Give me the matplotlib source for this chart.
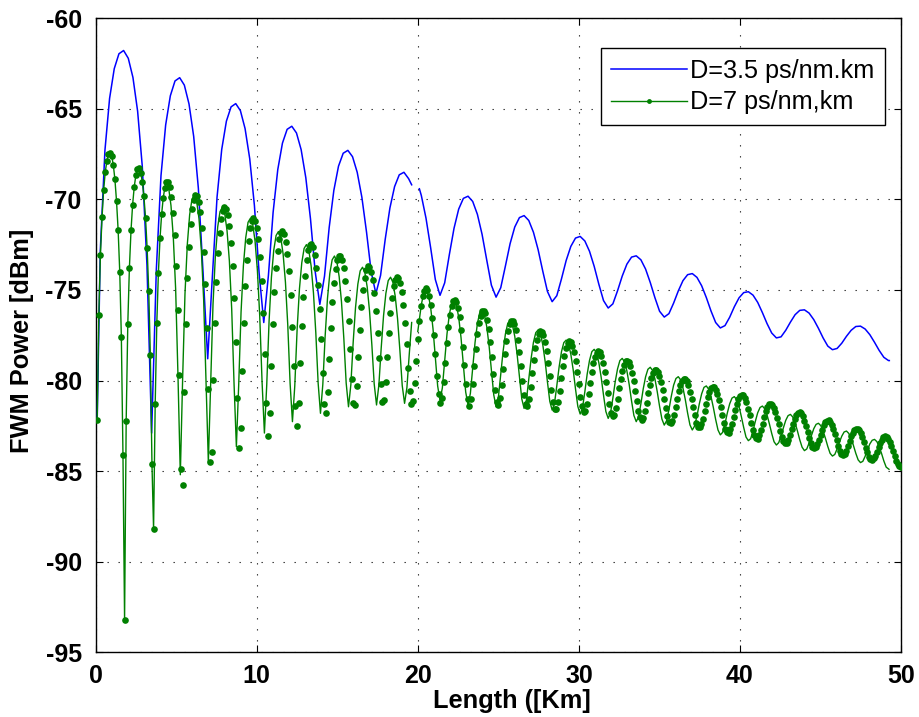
import numpy as np
import matplotlib
matplotlib.use("Agg")
import matplotlib.pyplot as plt
from matplotlib.lines import Line2D

plt.rcParams['font.family'] = ['Liberation Sans', 'DejaVu Sans']

# ---------------- data ----------------
series_labels = ["D=3.5 ps/nm.km", "D=7 ps/nm,km"]
x_label = "Length ([Km]"
y_label = "FWM Power [dBm]"
x_ticks = [0, 10, 20, 30, 40, 50]
y_ticks = [-95, -90, -85, -80, -75, -70, -65, -60]

# D = 3.5 ps/nm.km, first segment (0 - 19.6 km)
blue_a_x = [0.10, 0.29, 0.58, 0.87, 1.16, 1.45, 1.74, 2.03, 2.32, 2.61, 2.90, 3.19, 3.48,
            3.77, 4.06, 4.35, 4.64, 4.93, 5.22, 5.51, 5.80, 6.09, 6.38, 6.67, 6.96,
            7.25, 7.54, 7.83, 8.12, 8.41, 8.70, 8.99, 9.28, 9.57, 9.86, 10.15, 10.44,
            10.73, 11.02, 11.31, 11.60, 11.89, 12.18, 12.47, 12.76, 13.05, 13.34, 13.63, 13.92,
            14.21, 14.50, 14.79, 15.08, 15.37, 15.66, 15.95, 16.24, 16.53, 16.82, 17.11, 17.40,
            17.69, 17.98, 18.27, 18.56, 18.85, 19.14, 19.43, 19.62]
blue_a_y = [-82.2, -72.9, -67.31, -64.43, -62.79, -61.97, -61.79, -62.22, -63.28, -65.14, -68.19, -73.64, -82.9,
            -73.9, -68.70, -65.90, -64.29, -63.47, -63.29, -63.70, -64.74, -66.53, -69.39, -74.00, -78.8,
            -74.25, -69.88, -67.25, -65.69, -64.90, -64.72, -65.11, -66.10, -67.77, -70.35, -74.05, -76.8,
            -74.19, -70.72, -68.36, -66.90, -66.14, -65.97, -66.34, -67.26, -68.81, -71.08, -73.98, -75.8,
            -74.24, -71.56, -69.51, -68.17, -67.46, -67.30, -67.65, -68.51, -69.89, -71.82, -74.02, -75.2,
            -74.20, -72.20, -70.48, -69.30, -68.65, -68.51, -68.86, -69.2]

# D = 3.5 ps/nm.km, second segment (20.1 - 49.3 km)
blue_b_x = [20.10, 20.22, 20.51, 20.80, 21.09, 21.38,
            21.67, 21.96, 22.25, 22.54, 22.83, 23.12, 23.41, 23.70, 23.99, 24.28, 24.57, 24.86,
            25.15, 25.44, 25.73, 26.02, 26.31, 26.60, 26.89, 27.18, 27.47, 27.76, 28.05, 28.34,
            28.63, 28.92, 29.21, 29.50, 29.79, 30.08, 30.37, 30.66, 30.95, 31.24, 31.53, 31.82,
            32.11, 32.40, 32.69, 32.98, 33.27, 33.56, 33.85, 34.14, 34.43, 34.72, 35.01, 35.30,
            35.59, 35.88, 36.17, 36.46, 36.75, 37.04, 37.33, 37.62, 37.91, 38.20, 38.49, 38.78,
            39.07, 39.36, 39.65, 39.94, 40.23, 40.52, 40.81, 41.10, 41.39, 41.68, 41.97, 42.26,
            42.55, 42.84, 43.13, 43.42, 43.71, 44.00, 44.29, 44.58, 44.87, 45.16, 45.45, 45.74,
            46.03, 46.32, 46.61, 46.90, 47.19, 47.48, 47.77, 48.06, 48.35, 48.64, 48.93, 49.22,
            49.27]
blue_b_y = [-69.42, -69.79, -71.04, -72.68, -74.43, -75.3,
            -74.61, -73.05, -71.60, -70.54, -69.95, -69.83, -70.12, -70.83, -71.93, -73.35, -74.74, -75.4,
            -74.88, -73.68, -72.45, -71.53, -71.01, -70.90, -71.17, -71.82, -72.78, -73.97, -75.09, -75.65,
            -75.32, -74.39, -73.38, -72.60, -72.14, -72.05, -72.30, -72.87, -73.70, -74.69, -75.59, -76.0,
            -75.77, -75.05, -74.24, -73.58, -73.19, -73.12, -73.34, -73.85, -74.59, -75.43, -76.18, -76.5,
            -76.31, -75.73, -75.06, -74.49, -74.16, -74.10, -74.31, -74.77, -75.42, -76.16, -76.80, -77.1,
            -76.97, -76.51, -75.93, -75.44, -75.15, -75.10, -75.29, -75.69, -76.25, -76.86, -77.38, -77.65,
            -77.59, -77.23, -76.78, -76.37, -76.13, -76.10, -76.28, -76.64, -77.12, -77.65, -78.10, -78.3,
            -78.23, -77.94, -77.56, -77.23, -77.02, -77.00, -77.16, -77.47, -77.89, -78.34, -78.72, -78.9,
            -78.9]

# D = 7 ps/nm.km, thin line, first segment
green_a_x = [0.1, 0.2, 0.3, 0.4, 0.5, 0.6, 0.7, 0.8, 0.9, 1.0, 1.1, 1.2, 1.3, 1.4, 1.5, 1.6, 1.7,
             1.8, 1.9, 2.0, 2.1, 2.2, 2.3, 2.4, 2.5, 2.6, 2.7, 2.8, 2.9, 3.0, 3.1, 3.2, 3.3, 3.4, 3.5,
             3.6, 3.7, 3.8, 3.9, 4.0, 4.1, 4.2, 4.3,
             4.39, 4.535, 4.68, 4.825, 4.97, 5.115, 5.26,
             5.405, 5.55, 5.695, 5.84, 5.985, 6.13, 6.275, 6.42, 6.565, 6.71, 6.855, 7.0,
             7.145, 7.29, 7.435, 7.58, 7.725, 7.87, 8.015, 8.16, 8.305, 8.45, 8.595, 8.74,
             8.885, 9.03, 9.175, 9.32, 9.465, 9.61, 9.755, 9.90, 10.045, 10.19, 10.335, 10.48,
             10.625, 10.77, 10.915, 11.06, 11.205, 11.35, 11.495, 11.64, 11.785, 11.93, 12.075, 12.22,
             12.365, 12.51, 12.655, 12.80, 12.945, 13.09, 13.235, 13.38, 13.525, 13.67, 13.815, 13.96,
             14.105, 14.25, 14.395, 14.54, 14.685, 14.83, 14.975, 15.12, 15.265, 15.41, 15.555, 15.70,
             15.845, 15.99, 16.135, 16.28, 16.425, 16.57, 16.715, 16.86, 17.005, 17.15, 17.295, 17.44,
             17.585, 17.73, 17.875, 18.02, 18.165, 18.31, 18.455, 18.60, 18.745, 18.89, 19.035, 19.18,
             19.325, 19.47, 19.62]
green_a_y = [-82.2, -76.4, -73.1, -71.0, -69.5, -68.5, -67.9, -67.5, -67.45, -67.6, -68.1, -68.9, -70.1, -71.7, -74.0, -77.6, -84.1,
             -93.2, -82.21, -76.87, -73.77, -71.71, -70.29, -69.31, -68.68, -68.35, -68.30, -68.53, -69.03, -69.84, -71.02, -72.69, -75.06, -78.61, -84.59,
             -88.2, -81.32, -76.85, -74.05, -72.15, -70.83, -69.92, -69.35,
             -69.00, -69.36, -70.34, -72.10, -74.95, -79.74, -85.20,
             -79.87, -75.21, -72.48, -70.85, -69.99, -69.76, -70.11, -71.08, -72.80, -75.57, -80.04, -84.50,
             -80.15, -75.79, -73.14, -71.53, -70.68, -70.44, -70.78, -71.73, -73.40, -76.06, -80.17, -83.65,
             -80.22, -76.23, -73.67, -72.12, -71.27, -71.05, -71.39, -72.31, -73.93, -76.45, -80.09, -82.90,
             -80.24, -76.72, -74.31, -72.81, -72.00, -71.78, -72.11, -73.01, -74.57, -76.94, -80.16, -82.27,
             -80.30, -77.19, -74.94, -73.50, -72.71, -72.50, -72.82, -73.68, -75.17, -77.36, -80.14, -81.81,
             -80.22, -77.55, -75.47, -74.09, -73.34, -73.13, -73.43, -74.27, -75.67, -77.68, -80.14, -81.45,
             -80.24, -77.89, -75.98, -74.68, -73.95, -73.75, -74.04, -74.84, -76.17, -78.04, -80.19, -81.35,
             -80.25, -78.20, -76.43, -75.19, -74.49, -74.30, -74.58, -75.35, -76.60, -78.34, -80.28, -81.26,
             -80.40, -78.56, -76.80]

# D = 7 ps/nm.km, thin line, second segment
green_b_x = [20.0, 20.22, 20.365, 20.51, 20.655, 20.80, 20.945, 21.09, 21.235, 21.38,
             21.525, 21.67, 21.815, 21.96, 22.105, 22.25, 22.395, 22.54, 22.685, 22.83, 22.975, 23.12,
             23.265, 23.41, 23.555, 23.70, 23.845, 23.99, 24.135, 24.28, 24.425, 24.57, 24.715, 24.86,
             25.005, 25.15, 25.295, 25.44, 25.585, 25.73, 25.875, 26.02, 26.165, 26.31, 26.455, 26.60,
             26.745, 26.89, 27.035, 27.18, 27.325, 27.47, 27.615, 27.76, 27.905, 28.05, 28.195, 28.34,
             28.485, 28.63, 28.775, 28.92, 29.065, 29.21, 29.355, 29.50, 29.645, 29.79, 29.935, 30.08,
             30.225, 30.37, 30.515, 30.66, 30.805, 30.95, 31.095, 31.24, 31.385, 31.53, 31.675, 31.82,
             31.965, 32.11, 32.255, 32.40, 32.545, 32.69, 32.835, 32.98, 33.125, 33.27, 33.415, 33.56,
             33.705, 33.85, 33.995, 34.14, 34.285, 34.43, 34.575, 34.72, 34.865, 35.01, 35.155, 35.30,
             35.445, 35.59, 35.735, 35.88, 36.025, 36.17, 36.315, 36.46, 36.605, 36.75, 36.895, 37.04,
             37.185, 37.33, 37.475, 37.62, 37.765, 37.91, 38.055, 38.20, 38.345, 38.49, 38.635, 38.78,
             38.925, 39.07, 39.215, 39.36, 39.505, 39.65, 39.795, 39.94, 40.085, 40.23, 40.375, 40.52,
             40.665, 40.81, 40.955, 41.10, 41.245, 41.39, 41.535, 41.68, 41.825, 41.97, 42.115, 42.26,
             42.405, 42.55, 42.695, 42.84, 42.985, 43.13, 43.275, 43.42, 43.565, 43.71, 43.855, 44.00,
             44.145, 44.29, 44.435, 44.58, 44.725, 44.87, 45.015, 45.16, 45.305, 45.45, 45.595, 45.74,
             45.885, 46.03, 46.175, 46.32, 46.465, 46.61, 46.755, 46.90, 47.045, 47.19, 47.335, 47.48,
             47.625, 47.77, 47.915, 48.06, 48.205, 48.35, 48.495, 48.64, 48.785, 48.93, 49.075, 49.25]
green_b_y = [-77.30, -75.82, -75.18, -75.00, -75.27, -75.97, -77.14, -78.69, -80.31, -81.10,
             -80.41, -78.89, -77.42, -76.35, -75.73, -75.56, -75.82, -76.51, -77.64, -79.12, -80.64, -81.35,
             -80.71, -79.29, -77.90, -76.86, -76.26, -76.10, -76.35, -77.02, -78.07, -79.44, -80.79, -81.45,
             -80.92, -79.66, -78.39, -77.43, -76.85, -76.70, -76.94, -77.56, -78.55, -79.81, -81.01, -81.54,
             -81.07, -79.95, -78.79, -77.89, -77.36, -77.21, -77.43, -78.03, -78.94, -80.09, -81.15, -81.63,
             -81.27, -80.29, -79.24, -78.41, -77.91, -77.77, -77.98, -78.55, -79.40, -80.46, -81.43, -81.85,
             -81.51, -80.62, -79.65, -78.89, -78.41, -78.28, -78.48, -79.02, -79.83, -80.81, -81.71, -82.09,
             -81.79, -80.97, -80.07, -79.36, -78.90, -78.78, -78.97, -79.47, -80.23, -81.13, -81.93, -82.27,
             -82.00, -81.28, -80.46, -79.80, -79.38, -79.27, -79.45, -79.91, -80.62, -81.43, -82.13, -82.46,
             -82.22, -81.61, -80.88, -80.26, -79.89, -79.79, -79.96, -80.41, -81.05, -81.80, -82.45, -82.73,
             -82.51, -81.96, -81.29, -80.74, -80.38, -80.30, -80.48, -80.88, -81.48, -82.15, -82.73, -83.00,
             -82.86, -82.38, -81.79, -81.29, -80.97, -80.89, -81.06, -81.43, -81.99, -82.59, -83.12, -83.32,
             -83.21, -82.77, -82.25, -81.78, -81.49, -81.41, -81.56, -81.90, -82.39, -82.92, -83.38, -83.56,
             -83.43, -83.06, -82.61, -82.20, -81.94, -81.87, -82.01, -82.33, -82.78, -83.27, -83.68, -83.87,
             -83.78, -83.45, -83.04, -82.66, -82.42, -82.36, -82.49, -82.79, -83.19, -83.64, -84.02, -84.17,
             -84.08, -83.77, -83.40, -83.07, -82.84, -82.79, -82.92, -83.19, -83.59, -84.02, -84.38, -84.53,
             -84.46, -84.18, -83.83, -83.50, -83.30, -83.25, -83.37, -83.65, -84.02, -84.44, -84.78, -84.90]

# D = 7 ps/nm.km, sampled points every 0.1 km from 0.1 to 50 km
dot_step_km = 0.1
dots_y = [
    -82.2, -76.4, -73.1, -71.0, -69.5, -68.5, -67.9, -67.5, -67.45, -67.6, -68.1, -68.9, -70.1, -71.7, -74.0, -77.6, -84.1,
    -93.2, -82.21, -76.87, -73.77, -71.71, -70.29, -69.31, -68.68, -68.35, -68.30, -68.53, -69.03, -69.84, -71.02, -72.69, -75.06, -78.61, -84.59,
    -88.2, -81.32, -76.85, -74.05, -72.15, -70.83, -69.92, -69.35, -69.07, -69.06, -69.34, -69.88, -70.73, -71.96, -73.69, -76.12, -79.68, -84.86,
    -85.75, -80.62, -76.87, -74.36, -72.62, -71.39, -70.54, -70.02, -69.79, -69.83, -70.13, -70.72, -71.61, -72.89, -74.65, -77.09, -80.48, -84.48,
    -83.92, -79.99, -76.84, -74.58, -72.98, -71.85, -71.08, -70.62, -70.43, -70.51, -70.85, -71.45, -72.39, -73.68, -75.46, -77.86, -80.96, -83.73,
    -82.61, -79.49, -76.80, -74.80, -73.34, -72.31, -71.60, -71.20, -71.06, -71.19, -71.56, -72.21, -73.18, -74.50, -76.27, -78.56, -81.26, -83.04,
    -81.80, -79.22, -76.90, -75.11, -73.79, -72.84, -72.21, -71.86, -71.76, -71.92, -72.33, -73.00, -73.98, -75.30, -77.03, -79.18, -81.42,
    -82.51, -81.23, -79.02, -77.00, -75.41, -74.22, -73.36, -72.80, -72.50, -72.45, -72.65, -73.08, -73.78, -74.75, -76.05, -77.69, -79.57, -81.29,
    -81.79, -80.63, -78.82, -77.09, -75.69, -74.63, -73.86, -73.37, -73.12, -73.11, -73.34, -73.80, -74.50, -75.48, -76.74, -78.26, -79.93, -81.22,
    -81.37, -80.29, -78.72, -77.22, -75.97, -75.02, -74.33, -73.90, -73.70, -73.73, -73.99, -74.46, -75.17, -76.15, -77.36, -78.77, -80.21, -81.17,
    -81.10, -80.10, -78.73, -77.39, -76.28, -75.43, -74.81, -74.44, -74.28, -74.35, -74.63, -75.13, -75.86, -76.82, -78.00, -79.32, -80.57, -81.29,
    -81.13, -80.16, -78.91, -77.70, -76.69, -75.91, -75.36, -75.04, -74.92, -75.02, -75.33, -75.83, -76.55, -77.47, -78.56, -79.73, -80.74, -81.22,
    -80.96, -80.09, -79.01, -77.95, -77.07, -76.38, -75.89, -75.62, -75.55, -75.67, -76.00, -76.52, -77.23, -78.13, -79.16, -80.21, -81.04,
    -81.38, -81.03, -80.21, -79.22, -78.27, -77.46, -76.84, -76.42, -76.19, -76.15, -76.30, -76.64, -77.17, -77.86, -78.70, -79.64, -80.54, -81.19,
    -81.36, -80.99, -80.25, -79.37, -78.53, -77.81, -77.26, -76.90, -76.71, -76.71, -76.88, -77.22, -77.74, -78.40, -79.19, -80.02, -80.78, -81.28,
    -81.40, -81.03, -80.37, -79.59, -78.85, -78.23, -77.75, -77.43, -77.29, -77.32, -77.51, -77.87, -78.38, -79.03, -79.77, -80.54, -81.19, -81.58,
    -81.58, -81.20, -80.58, -79.87, -79.20, -78.63, -78.21, -77.94, -77.83, -77.88, -78.09, -78.44, -78.94, -79.55, -80.22, -80.89, -81.43, -81.72,
    -81.69, -81.32, -80.76, -80.13, -79.54, -79.05, -78.68, -78.46, -78.37, -78.45, -78.67, -79.03, -79.51, -80.08, -80.71, -81.31, -81.77, -81.98,
    -81.91, -81.53, -81.01, -80.44, -79.91, -79.46, -79.13, -78.94, -78.90, -79.00, -79.22, -79.57, -80.03, -80.58, -81.15, -81.67, -82.04,
    -82.18, -82.06, -81.71, -81.22, -80.71, -80.24, -79.85, -79.58, -79.42, -79.40, -79.51, -79.75, -80.10, -80.53, -81.03, -81.54, -81.98, -82.28,
    -82.36, -82.23, -81.90, -81.46, -81.01, -80.60, -80.26, -80.02, -79.90, -79.91, -80.03, -80.27, -80.61, -81.01, -81.48, -81.93, -82.32, -82.56,
    -82.57, -82.42, -82.11, -81.71, -81.31, -80.93, -80.64, -80.43, -80.35, -80.36, -80.50, -80.74, -81.07, -81.47, -81.91, -82.32, -82.67, -82.85,
    -82.87, -82.70, -82.40, -82.02, -81.64, -81.29, -81.03, -80.85, -80.79, -80.82, -80.97, -81.21, -81.55, -81.93, -82.35, -82.72, -83.03, -83.18,
    -83.21, -83.03, -82.74, -82.38, -82.03, -81.71, -81.48, -81.32, -81.28, -81.33, -81.49, -81.73, -82.05, -82.40, -82.78, -83.11, -83.36, -83.47,
    -83.46, -83.28, -83.01, -82.69, -82.38, -82.10, -81.90, -81.78, -81.75, -81.82, -81.97, -82.21, -82.50, -82.84, -83.16, -83.46, -83.65,
    -83.74, -83.68, -83.52, -83.27, -82.99, -82.71, -82.48, -82.30, -82.21, -82.20, -82.29, -82.45, -82.69, -82.97, -83.30, -83.61, -83.88, -84.04,
    -84.11, -84.03, -83.87, -83.62, -83.35, -83.09, -82.88, -82.72, -82.65, -82.65, -82.75, -82.91, -83.14, -83.41, -83.70, -83.97, -84.20, -84.34,
    -84.38, -84.30, -84.14, -83.92, -83.68, -83.45, -83.27, -83.14, -83.09, -83.11, -83.21, -83.38, -83.61, -83.87, -84.16, -84.42, -84.63, -84.74,
    -84.77,
]
dots_x = np.arange(1, len(dots_y) + 1) * dot_step_km

# ---------------- drawing ----------------
BLUE = '#0000FF'
GREEN = '#008000'

fig = plt.figure(figsize=(9.19, 7.17), dpi=100)
ax = fig.add_axes([0.1040, 0.0902, 0.8765, 0.8846])

ax.plot(blue_a_x, blue_a_y, color=BLUE, lw=1.1, zorder=3)
ax.plot(blue_b_x, blue_b_y, color=BLUE, lw=1.1, zorder=3)
ax.plot(green_a_x, green_a_y, color=GREEN, lw=1.0, zorder=4)
ax.plot(green_b_x, green_b_y, color=GREEN, lw=1.0, zorder=4)
ax.plot(dots_x, dots_y, linestyle='none', marker='o', ms=4.8, mew=0,
        color=GREEN, zorder=5)

ax.set_xlim(0, 50)
ax.set_ylim(-95, -60)
ax.set_xticks(x_ticks)
ax.set_yticks(y_ticks)
ax.set_xticklabels([str(v) for v in x_ticks])
ax.set_yticklabels([str(v) for v in y_ticks])

ax.grid(True, color='k', linestyle=(0, (1.2, 8.7)), linewidth=0.8, alpha=0.85)
ax.set_axisbelow(True)

for sp in ax.spines.values():
    sp.set_linewidth(1.0)
    sp.set_color('k')

ax.tick_params(direction='in', length=5, width=0.8, top=True, right=True,
               labelsize=18)
ax.tick_params(axis='y', pad=10)
ax.tick_params(axis='x', pad=8.5)
for lbl in ax.get_xticklabels() + ax.get_yticklabels():
    lbl.set_fontweight('bold')

ax.set_xlabel(x_label, fontsize=18.3, fontweight='bold')
ax.set_ylabel(y_label, fontsize=18.3, fontweight='bold')
ax.xaxis.set_label_coords(0.5163, -0.058)
ax.yaxis.set_label_coords(-0.077, 0.491)

handles = [Line2D([], [], color=BLUE, lw=1.1),
           Line2D([], [], color=GREEN, lw=1.0, marker='o', ms=3.5, mew=0)]
leg = ax.legend(handles, series_labels, loc='upper right',
                bbox_to_anchor=(0.980, 0.9524), borderaxespad=0.0,
                prop={'size': 18.2}, fancybox=False, framealpha=1.0,
                edgecolor='k', handlelength=3.0, handletextpad=0.12,
                borderpad=0.42, labelspacing=0.3)
leg.get_frame().set_linewidth(1.0)

fig.savefig('out.png', dpi=100)
